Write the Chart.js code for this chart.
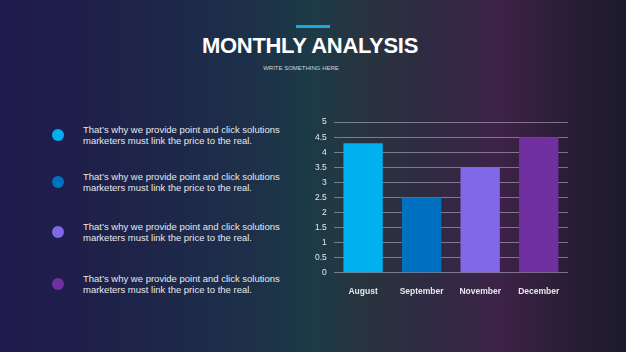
<!DOCTYPE html>
<html>
<head>
<meta charset="utf-8">
<script src="https://cdn.jsdelivr.net/npm/chart.js@4/dist/chart.umd.min.js"></script>
<style>
  html, body { margin: 0; padding: 0; }
  body {
    width: 626px; height: 352px; overflow: hidden; position: relative;
    font-family: "Liberation Sans", Arial, sans-serif;
    background: linear-gradient(to right, #1e1a4c 0%, #1e2449 22%, #1d3049 40%, #1c3b46 50%, #28343f 58%, #2e2b42 68%, #3d2247 80%, #2b1e36 90%, #1b1b2b 100%);
  }
  .accent { position: absolute; left: 296px; top: 25px; width: 34px; height: 3px; background: #1ba6e0; }
  h1 { position: absolute; left: 0; width: 620px; top: 33px; margin: 0; text-align: center;
       color: #fff; font-size: 22px; font-weight: bold; letter-spacing: -0.3px; }
  .sub { position: absolute; left: 0; width: 602px; top: 65px; text-align: center; color: #d0d4dc; font-size: 6px; }
  .item { position: absolute; left: 83px; color: #e6e8ee; font-size: 9.5px; line-height: 11px; }
  .dot { position: absolute; width: 12px; height: 12px; border-radius: 50%; left: 52px; }
  #wrap { position: absolute; left: 308px; top: 110px; width: 260px; height: 193px; }
</style>
</head>
<body>
<div class="accent"></div>
<h1>MONTHLY ANALYSIS</h1>
<div class="sub">WRITE SOMETHING HERE</div>
<div id="items"></div>
<div id="wrap"><canvas id="chart"></canvas></div>
<script>
var months = ['August', 'September', 'November', 'December'];
var values = [4.3, 2.5, 3.5, 4.5];
var barColors = ['#00b0f0', '#0070c0', '#8068e8', '#7030a0'];
var itemText = ["That\u2019s why we provide point and click solutions", 'marketers must link the price to the real.'];
var itemTops = [124, 171, 221, 273];

var holder = document.getElementById('items');
for (var i = 0; i < itemTops.length; i++) {
    var d = document.createElement('div');
    d.className = 'dot';
    d.style.top = (itemTops[i] + 5) + 'px';
    d.style.background = barColors[i];
    holder.appendChild(d);
    var t = document.createElement('div');
    t.className = 'item';
    t.style.top = itemTops[i] + 'px';
    t.innerHTML = itemText[0] + '<br>' + itemText[1];
    holder.appendChild(t);
}

var ctx = document.getElementById('chart');
new Chart(ctx, {
    type: 'bar',
    data: {
        labels: months,
        datasets: [{ data: values, backgroundColor: barColors, categoryPercentage: 0.8, barPercentage: 0.84 }]
    },
    options: {
        responsive: true,
        maintainAspectRatio: false,
        animation: false,
        layout: { padding: 0 },
        plugins: { legend: { display: false }, tooltip: { enabled: false } },
        scales: {
            x: {
                grid: { display: false },
                border: { display: false },
                ticks: { color: '#e6e8ee', font: { family: 'Liberation Sans', size: 8.5, weight: 'bold' }, padding: 6 }
            },
            y: {
                min: 0, max: 5,
                ticks: {
                    stepSize: 0.5, color: '#e6e8ee', font: { family: 'Liberation Sans', size: 8.5 }, padding: 7,
                    callback: function(v) { return String(v); }
                },
                grid: { color: 'rgba(220,220,235,0.45)', drawTicks: false },
                border: { display: false }
            }
        }
    }
});
</script>
</body>
</html>
